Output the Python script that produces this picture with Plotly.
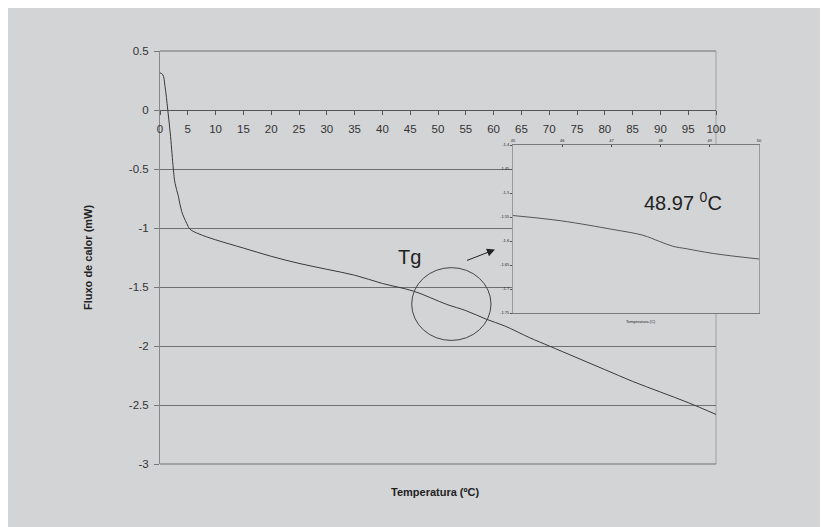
import plotly.graph_objects as go

# ---- main DSC curve ----
temp = [0, 0.5, 0.9, 1.4, 1.9, 2.4, 2.7, 3.3, 3.9, 4.8, 5.4, 7, 10, 15, 20, 25, 30, 35,
        40, 45.6, 51.6, 55, 58.8, 62, 66.5, 70, 75, 80, 85, 90, 95, 100]
flux = [0.315, 0.30, 0.20, 0.0, -0.225, -0.50, -0.62, -0.73, -0.86, -0.96, -1.01, -1.05,
        -1.10, -1.17, -1.24, -1.30, -1.35, -1.40, -1.47, -1.535, -1.648, -1.70, -1.775,
        -1.83, -1.93, -2.00, -2.10, -2.20, -2.30, -2.39, -2.48, -2.58]

# ---- inset (zoom on Tg) ----
temp_in = [45, 45.98, 47.03, 47.64, 47.98, 48.25, 48.52, 49.07, 50]
flux_in = [-1.547, -1.558, -1.576, -1.588, -1.601, -1.611, -1.616, -1.626, -1.6375]

x_ticks = list(range(0, 101, 5))
y_ticks = [0.5, 0, -0.5, -1, -1.5, -2, -2.5, -3]
y_tick_text = ["0.5", "0", "-0.5", "-1", "-1.5", "-2", "-2.5", "-3"]
xin_ticks = [45, 46, 47, 48, 49, 50]
yin_ticks = [-1.4, -1.45, -1.5, -1.55, -1.6, -1.65, -1.7, -1.75]
yin_text = ["-1.4", "-1.45", "-1.5", "-1.55", "-1.6", "-1.65", "-1.7", "-1.75"]

BG = "#d3d4d6"
FONT = "Liberation Sans, Arial, sans-serif"

OFF = 8  # page body margin
W, H = 840, 540  # figure a bit larger than the window so the grey reaches the edges
L, T = 160 - OFF, 51 - OFF
R = OFF + W - 759
B = OFF + H - 464
pw, ph = W - L - R, H - T - B

def px_x(p):  # page px -> paper fraction
    return (p - OFF - L) / pw

def px_y(p):
    return (OFF + T + ph - p) / ph

fig = go.Figure()
fig.add_trace(go.Scatter(x=temp, y=flux, mode="lines", line=dict(color="#3a3a3a", width=1),
                         xaxis="x", yaxis="y", showlegend=False, line_shape="spline"))
fig.add_trace(go.Scatter(x=temp_in, y=flux_in, mode="lines", line=dict(color="#555555", width=1),
                         xaxis="x2", yaxis="y2", showlegend=False, line_shape="spline"))

ymin, ymax = -3, 0.5
fig.update_layout(
    width=W, height=H,
    margin=dict(l=L, r=R, t=T, b=B),
    paper_bgcolor=BG, plot_bgcolor=BG,
    font=dict(family=FONT, color="#333333", size=11),
    xaxis=dict(domain=[0, px_x(716)], range=[0, 100], anchor="free",
               position=(0 - ymin) / (ymax - ymin),
               tickvals=x_ticks, ticks="outside", ticklen=4, tickcolor="#555555",
               showline=True, linecolor="#555555", linewidth=1, showgrid=False,
               zeroline=False, ticklabelstandoff=4,
               tickfont=dict(size=11.5, color="#333333")),
    yaxis=dict(domain=[0, 1], range=[ymin, ymax], tickvals=y_ticks, ticktext=y_tick_text,
               ticks="outside", ticklen=5, tickcolor="#777777",
               showline=True, linecolor="#888888", linewidth=1,
               showgrid=True, gridcolor="#6f6f6f", gridwidth=1, zeroline=False,
               ticklabelstandoff=3, tickfont=dict(size=11.5, color="#333333")),
    xaxis2=dict(domain=[px_x(513), 1], range=[45, 50], anchor="y2", side="top",
                tickvals=xin_ticks, ticks="inside", ticklen=2, tickcolor="#444444",
                showline=True, linecolor="#7a7a7a", mirror=True, showgrid=False,
                zeroline=False, tickfont=dict(size=4, color="#222222"), ticklabelstandoff=0),
    yaxis2=dict(domain=[px_y(313), px_y(145)], range=[-1.75, -1.4], anchor="x2",
                tickvals=yin_ticks, ticktext=yin_text, ticks="outside", ticklen=2,
                tickcolor="#555555", showline=True, linecolor="#9a9a9a", mirror=True,
                showgrid=False, zeroline=False, tickfont=dict(size=4, color="#222222")),
    shapes=[
        dict(type="line", xref="x domain", yref="y domain", x0=1, x1=1, y0=0, y1=1,
             line=dict(color="#a0a0a0", width=1), layer="below"),
        dict(type="line", xref="x domain", yref="y domain", x0=0, x1=1, y0=1, y1=1,
             line=dict(color="#6f6f6f", width=1), layer="below"),
        dict(type="line", xref="x domain", yref="y domain", x0=0, x1=1, y0=0, y1=0,
             line=dict(color="#6f6f6f", width=1), layer="below"),
        dict(type="circle", xref="x", yref="y", x0=45.27, x1=59.53, y0=-1.953, y1=-1.336,
             line=dict(color="#444444", width=1), layer="above"),
    ],
    annotations=[
        dict(text="<b>Fluxo de calor (mW)</b>", xref="paper", yref="paper",
             x=px_x(88), y=px_y(258), textangle=-90, showarrow=False,
             xanchor="center", yanchor="middle", font=dict(size=11, color="#222222")),
        dict(text="<b>Temperatura (ºC)</b>", xref="paper", yref="paper",
             x=px_x(435), y=px_y(492), showarrow=False, xanchor="center", yanchor="middle",
             font=dict(size=11, color="#222222")),
        dict(text="Tg", xref="x", yref="y", x=44.96, y=-1.243, showarrow=False,
             xanchor="center", yanchor="middle", font=dict(size=20, color="#222222")),
        dict(text=" ", xref="x", yref="y", x=60.25, y=-1.183, ax=-31, ay=12,
             showarrow=True, arrowhead=2, arrowsize=1.6, arrowwidth=1, arrowcolor="#222222"),
        dict(text="48.97 <sup>0</sup>C", xref="x2", yref="y2", x=48.46, y=-1.518,
             showarrow=False, xanchor="center", yanchor="middle",
             font=dict(size=20, color="#222222")),
        dict(text="Temperatura (C)", xref="x2", yref="paper", x=47.6, y=px_y(321),
             showarrow=False, xanchor="center", yanchor="middle",
             font=dict(size=4, color="#222222")),
    ],
)

fig.write_html("out.html", post_script="document.body.style.overflow='hidden';")
